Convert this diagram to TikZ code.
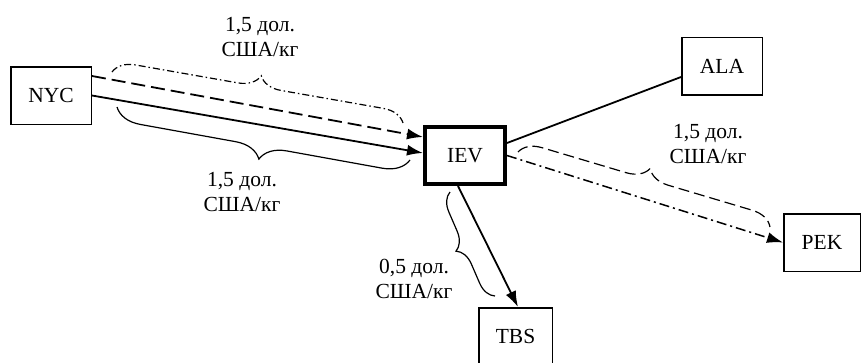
\documentclass[tikz,border=0pt]{standalone}
\usepackage{fontspec}
\setmainfont{Liberation Serif}
\usetikzlibrary{arrows.meta,decorations.pathreplacing}
\tikzset{>={Latex[length=16pt,width=11pt]}}
\tikzset{
  city/.style={draw, line width=1.5pt, minimum width=80.5pt, minimum height=57.5pt,
    inner sep=0pt, font=\fontsize{21.5}{25}\selectfont},
  hub/.style={city, line width=4pt, minimum width=80pt, minimum height=57pt},
  price/.style={align=center, font=\fontsize{21.5}{25}\selectfont},
  curly/.style={decorate, decoration={brace, amplitude=#1}, line width=1.2pt},
}

\begin{document}
\begin{tikzpicture}[x=1pt, y=-1pt]
    \useasboundingbox (0,0) rectangle (861,362);
    \node[city] (NYC) at (51,95.5) {NYC};
    \node[hub] (IEV) at (465,155.5) {IEV};
    \node[city] (ALA) at (722,66) {ALA};
    \node[city, minimum width=76.5pt] (PEK) at (822,242.5) {PEK};
    \node[city, minimum width=73.5pt] (TBS) at (515.5,336.5) {TBS};
    % routes
    \draw[->, line width=1.8pt, dash pattern=on 14pt off 6pt] ([yshift=19.5pt]NYC.east) -- ([yshift=18.5pt]IEV.west);
    \draw[->, line width=1.8pt] (NYC.east) -- ([yshift=2.5pt]IEV.west);
    \draw[line width=1.8pt] ([yshift=12.5pt]IEV.east) -- ([yshift=-11pt]ALA.west);
    \draw[->, line width=1.5pt, dash pattern=on 10pt off 4pt on 2pt off 4pt] (IEV.east) -- (PEK.west);
    \draw[->, line width=1.8pt] ([xshift=-7pt]IEV.south) -- ([xshift=2.5pt]TBS.north);
    % tariffs
    \draw[curly=22pt, dash pattern=on 7pt off 3pt on 1.5pt off 3pt] (112,72) -- (403,123);
    \draw[curly=26pt] (410,160) -- (117,107);
    \draw[curly=22pt, dash pattern=on 11pt off 5pt] (518,152) -- (770,227);
    \draw[curly=18pt] (495,296) -- (450,192);
    \node[price] (top) at (260,37) {1,5 дол.\\США/кг};
    \node[price] (bottom) at (242,192) {1,5 дол.\\США/кг};
    \node[price] (east) at (708,144) {1,5 дол.\\США/кг};
    \node[price] (south) at (414,279) {0,5 дол.\\США/кг};
\end{tikzpicture}
\end{document}
